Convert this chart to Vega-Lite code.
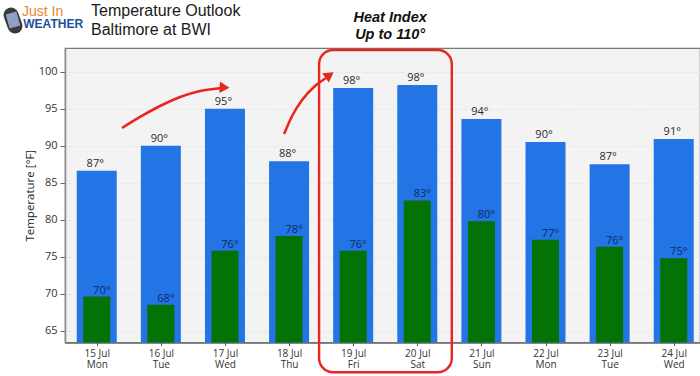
{
  "$schema": "https://vega.github.io/schema/vega-lite/v6.json",
  "width": 635,
  "height": 294.5,
  "autosize": {"type": "none"},
  "padding": {"left": 65, "top": 48, "right": 0, "bottom": 33.5},
  "background": "white",
  "title": {
    "text": ["Temperature Outlook", "Baltimore at BWI"],
    "anchor": "start",
    "frame": "group",
    "dx": 26,
    "offset": 0,
    "dy": 53,
    "font": "Liberation Sans",
    "fontSize": 16,
    "fontWeight": "normal",
    "color": "#1a1a1a",
    "lineHeight": 18.5
  },
  "view": {"fill": "#f4f3f3", "stroke": "#7a7a7a", "strokeWidth": 1.2},
  "datasets": {
    "temps": [
      {"date": "2024-07-15", "series": "high", "value": 86.6, "label": "87°"},
      {"date": "2024-07-16", "series": "high", "value": 90.0, "label": "90°"},
      {"date": "2024-07-17", "series": "high", "value": 95.0, "label": "95°"},
      {"date": "2024-07-18", "series": "high", "value": 87.9, "label": "88°"},
      {"date": "2024-07-19", "series": "high", "value": 97.8, "label": "98°"},
      {"date": "2024-07-20", "series": "high", "value": 98.2, "label": "98°"},
      {"date": "2024-07-21", "series": "high", "value": 93.6, "label": "94°"},
      {"date": "2024-07-22", "series": "high", "value": 90.5, "label": "90°"},
      {"date": "2024-07-23", "series": "high", "value": 87.5, "label": "87°"},
      {"date": "2024-07-24", "series": "high", "value": 90.9, "label": "91°"},
      {"date": "2024-07-15", "series": "low", "value": 69.6, "label": "70°"},
      {"date": "2024-07-16", "series": "low", "value": 68.5, "label": "68°"},
      {"date": "2024-07-17", "series": "low", "value": 75.8, "label": "76°"},
      {"date": "2024-07-18", "series": "low", "value": 77.8, "label": "78°"},
      {"date": "2024-07-19", "series": "low", "value": 75.8, "label": "76°"},
      {"date": "2024-07-20", "series": "low", "value": 82.6, "label": "83°"},
      {"date": "2024-07-21", "series": "low", "value": 79.8, "label": "80°"},
      {"date": "2024-07-22", "series": "low", "value": 77.3, "label": "77°"},
      {"date": "2024-07-23", "series": "low", "value": 76.35, "label": "76°"},
      {"date": "2024-07-24", "series": "low", "value": 74.8, "label": "75°"}
    ],
    "arrows": [
      {"arrow": "a", "date": "2024-07-15T09:28:00Z", "value": 92.39},
      {"arrow": "a", "date": "2024-07-15T16:13:00Z", "value": 93.88},
      {"arrow": "a", "date": "2024-07-15T23:42:00Z", "value": 95.36},
      {"arrow": "a", "date": "2024-07-16T07:11:00Z", "value": 96.58},
      {"arrow": "a", "date": "2024-07-16T14:40:00Z", "value": 97.39},
      {"arrow": "a", "date": "2024-07-16T22:55:00Z", "value": 97.80},
      {"arrow": "b", "date": "2024-07-17T22:08:00Z", "value": 91.58},
      {"arrow": "b", "date": "2024-07-18T01:08:00Z", "value": 94.01},
      {"arrow": "b", "date": "2024-07-18T04:52:00Z", "value": 96.18},
      {"arrow": "b", "date": "2024-07-18T09:44:00Z", "value": 98.07},
      {"arrow": "b", "date": "2024-07-18T13:51:00Z", "value": 99.15}
    ],
    "heads": [
      {"date": "2024-07-16T23:51:00Z", "value": 97.86, "heading": 3},
      {"date": "2024-07-18T15:10:00Z", "value": 99.55, "heading": 325}
    ],
    "box": [
      {"date": "2024-07-18T11:14:00Z", "date2": "2024-07-20T12:55:00Z", "value": 102.93, "value2": 59.38}
    ],
    "notes": [
      {"date": "2024-07-19T13:50:00Z", "value": 107.26, "text": "Heat Index"},
      {"date": "2024-07-19T13:50:00Z", "value": 104.96, "text": "Up to 110°"}
    ],
    "logoShape": [
      {"part": "frame", "date": "2024-07-13T15:55:00Z", "value": 107.66},
      {"part": "frame", "date": "2024-07-13T17:24:00Z", "value": 106.18},
      {"part": "screen", "date": "2024-07-13T15:55:00Z", "value": 107.93},
      {"part": "screen", "date": "2024-07-13T17:24:00Z", "value": 106.04}
    ],
    "logoText1": [{"date": "2024-07-13T20:02:00Z", "value": 108.07, "text": "Just In"}],
    "logoText2": [{"date": "2024-07-13T20:30:00Z", "value": 106.45, "text": "WEATHER"}]
  },
  "encoding": {
    "x": {
      "field": "date",
      "type": "temporal",
      "scale": {
        "type": "utc",
        "nice": false,
        "padding": 0,
        "domain": [{"year": 2024, "month": 7, "date": 14, "hours": 12, "minutes": 7, "utc": true}, {"year": 2024, "month": 7, "date": 24, "hours": 9, "minutes": 50, "utc": true}]
      },
      "axis": {
        "title": null,
        "grid": false,
        "tickCount": {"interval": "day", "step": 1},
        "labelExpr": "[utcFormat(datum.value,'%d %b'),utcFormat(datum.value,'%a')]",
        "labelFont": "Open Sans",
        "labelFontSize": 10,
        "labelColor": "#333333",
        "labelLineHeight": 11,
        "labelPadding": 3,
        "labelFlush": false,
        "labelOverlap": false,
        "tickSize": 3,
        "tickColor": "#555555",
        "domainColor": "#555555",
        "domainWidth": 1.2
      }
    },
    "y": {
      "field": "value",
      "type": "quantitative",
      "scale": {"domain": [63.4, 103.2], "zero": false, "nice": false},
      "axis": {
        "title": "Temperature [°F]",
        "titleFont": "Open Sans",
        "titleFontSize": 11.5,
        "titleFontWeight": "normal",
        "titleColor": "#222222",
        "titlePadding": 3,
        "values": [65, 70, 75, 80, 85, 90, 95, 100],
        "labelFont": "Open Sans",
        "labelFontSize": 11,
        "labelColor": "#333333",
        "labelPadding": 3,
        "tickSize": 5,
        "tickColor": "#666666",
        "domainColor": "#8a8a8a",
        "domainWidth": 1.5,
        "gridColor": "#e9e7e7",
        "gridDash": [6, 3],
        "gridWidth": 1
      }
    }
  },
  "layer": [
    {
      "data": {"name": "temps"},
      "transform": [{"filter": "datum.series === 'high'"}],
      "mark": {"type": "bar", "width": 40, "color": "#2375e5", "clip": true}
    },
    {
      "data": {"name": "temps"},
      "transform": [{"filter": "datum.series === 'low'"}],
      "mark": {"type": "bar", "width": 27, "color": "#047204", "clip": true}
    },
    {
      "data": {"name": "temps"},
      "transform": [{"filter": "datum.series === 'high'"}],
      "mark": {"type": "text", "font": "Open Sans", "fontSize": 11, "color": "#2a2a2a", "baseline": "alphabetic", "dy": -4, "dx": -1.5},
      "encoding": {"text": {"field": "label"}}
    },
    {
      "data": {"name": "temps"},
      "transform": [{"filter": "datum.series === 'low'"}],
      "mark": {"type": "text", "font": "Open Sans", "fontSize": 11, "color": "#0b2a66", "baseline": "alphabetic", "dy": -3, "dx": 5},
      "encoding": {"text": {"field": "label"}}
    },
    {
      "data": {"name": "box"},
      "mark": {"type": "rect", "fill": "transparent", "stroke": "#e8261f", "strokeWidth": 2.4, "cornerRadius": 14, "clip": false},
      "encoding": {"x2": {"field": "date2"}, "y2": {"field": "value2"}}
    },
    {
      "data": {"name": "arrows"},
      "mark": {"type": "line", "color": "#e8261f", "strokeWidth": 2.6, "interpolate": "monotone", "clip": false},
      "encoding": {"detail": {"field": "arrow"}}
    },
    {
      "data": {"name": "heads"},
      "mark": {"type": "point", "shape": "triangle-right", "filled": true, "color": "#e8261f", "opacity": 1, "size": 130, "clip": false},
      "encoding": {"angle": {"field": "heading", "type": "quantitative", "scale": {"domain": [0, 360], "range": [0, 360]}}}
    },
    {
      "data": {"name": "notes"},
      "mark": {"type": "text", "font": "Liberation Sans", "fontSize": 14.5, "fontWeight": "bold", "fontStyle": "italic", "color": "#111111", "clip": false},
      "encoding": {"text": {"field": "text"}}
    },
    {
      "data": {"name": "logoShape"},
      "transform": [{"filter": "datum.part === 'frame'"}],
      "mark": {"type": "line", "color": "#3a3a3a", "strokeWidth": 15, "strokeCap": "round", "clip": false}
    },
    {
      "data": {"name": "logoShape"},
      "transform": [{"filter": "datum.part === 'screen'"}],
      "mark": {"type": "line", "color": "#8fa0c4", "strokeWidth": 11, "strokeCap": "butt", "clip": false}
    },
    {
      "data": {"name": "logoText1"},
      "mark": {"type": "text", "font": "Liberation Sans", "fontSize": 14, "color": "#e8872b", "align": "left", "clip": false},
      "encoding": {"text": {"field": "text"}}
    },
    {
      "data": {"name": "logoText2"},
      "mark": {"type": "text", "font": "Liberation Sans", "fontSize": 12, "fontWeight": "bold", "color": "#1d4f9e", "align": "left", "clip": false},
      "encoding": {"text": {"field": "text"}}
    }
  ]
}
